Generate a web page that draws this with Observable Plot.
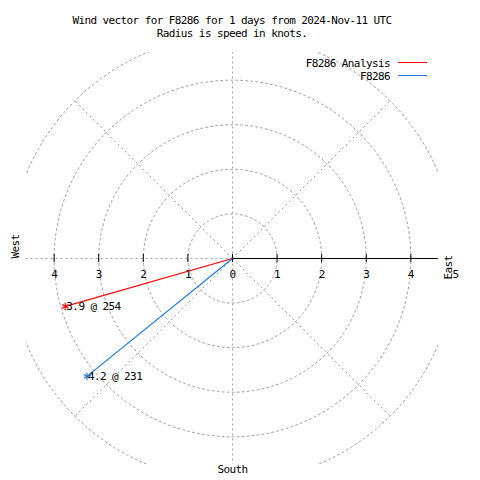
<!DOCTYPE html>
<html>
<head>
<meta charset="utf-8">
<script src="https://cdn.jsdelivr.net/npm/d3@7"></script>
<script src="https://cdn.jsdelivr.net/npm/@observablehq/plot@0.6"></script>
<style>
  html, body { margin: 0; padding: 0; background: #fff; }
  #wrap { position: relative; width: 480px; height: 480px; overflow: hidden;
          font-family: "DejaVu Sans Mono", monospace; font-size: 11px; letter-spacing: -0.6px; color: #000; }
  #title { position: absolute; top: 14px; left: 0; width: 464px; text-align: center; line-height: 13px; white-space: pre; }
  .leg { position: absolute; right: 90px; line-height: 13px; white-space: pre; }
  .legline { position: absolute; left: 398px; width: 29px; height: 1px; }
  svg text { letter-spacing: -0.6px; }
</style>
</head>
<body>
<div id="wrap">
  <div id="chart"></div>
  <div id="title"></div>
  <div id="legend"></div>
</div>
<script>
// ---- data ----
const titleLines = ["Wind vector for F8286 for 1 days from 2024-Nov-11 UTC", "Radius is speed in knots."];
const series = ["F8286 Analysis", "F8286"];
const speeds = [3.9, 4.2];          // knots
const directions = [254, 231];      // degrees
const radii = [1, 2, 3, 4, 5];      // grid circles
const spokeAngles = [0, 45, 90, 135, 180, 225, 270, 315];
const leftTicks = [-4, -3, -2, -1, 0];
const rightTicks = [0, 1, 2, 3, 4];
const rightTickLabels = [0, 1, 2, 3, 4, 5];
const compass = ["West", "East", "South"];

const R = 4.62;
const rad = d => d * Math.PI / 180;
const seriesColors = ["#ff0000", "#1a78e6"];

const vectors = series.map((s, i) => ({
  series: s, speed: speeds[i], dir: directions[i],
  x: speeds[i] * Math.sin(rad(directions[i])),
  y: speeds[i] * Math.cos(rad(directions[i]))
}));

const circlePts = radii.flatMap(r => d3.range(0, 361, 2).map(a => ({r, x: r * Math.cos(rad(a)), y: r * Math.sin(rad(a))})));
const spokes = spokeAngles.map(a => ({x2: 5 * Math.cos(rad(a)), y2: 5 * Math.sin(rad(a))}));
const tickHalf = 4 / 44.6;

const chart = Plot.plot({
  width: 480, height: 480,
  marginLeft: 26, marginRight: 42, marginTop: 52, marginBottom: 16,
  x: {domain: [-R, R], axis: null},
  y: {domain: [-R, R], axis: null},
  color: {domain: series, range: seriesColors},
  style: {fontFamily: "DejaVu Sans Mono, monospace", fontSize: "11px", color: "#000", background: "#fff"},
  marks: [
    Plot.line(circlePts, {x: "x", y: "y", z: "r", stroke: "#a0a0a0", strokeWidth: 1, strokeDasharray: "2,3", clip: true}),
    Plot.link(spokes, {x1: 0, y1: 0, x2: "x2", y2: "y2", stroke: "#a0a0a0", strokeWidth: 1, strokeDasharray: "2,3", clip: true}),
    Plot.ruleY([0], {x1: 0, x2: R, stroke: "#000", strokeWidth: 1}),
    Plot.ruleX([...leftTicks, ...rightTicks], {x: d => d, y1: -tickHalf, y2: tickHalf, stroke: "#000", strokeWidth: 1}),
    Plot.text(leftTicks.filter(d => d !== 0), {x: d => d, y: 0, text: d => String(Math.abs(d)), dy: 16, fill: "#000"}),
    Plot.text(rightTickLabels, {x: d => d, y: 0, text: d => String(d), dy: 16, fill: "#000"}),
    Plot.link(vectors, {x1: 0, y1: 0, x2: "x", y2: "y", stroke: "series", strokeWidth: 1.2}),
    Plot.dot(vectors, {x: "x", y: "y", symbol: "asterisk", r: 3.5, stroke: "series", strokeWidth: 1.2}),
    Plot.text(vectors, {x: "x", y: "y", text: d => `${d.speed} @ ${d.dir}`, textAnchor: "start", dx: 1, fill: "#000"}),
    Plot.text([compass[0]], {frameAnchor: "left", dx: -11, rotate: -90, text: d => d, fill: "#000"}),
    Plot.text([compass[1]], {frameAnchor: "right", dx: 10, dy: -3, rotate: -90, text: d => d, fill: "#000"}),
    Plot.text([compass[2]], {frameAnchor: "bottom", dy: 8, text: d => d, fill: "#000"})
  ]
});
document.getElementById("chart").appendChild(chart);

document.getElementById("title").textContent = titleLines.join("\n");

const legend = document.getElementById("legend");
series.forEach((s, i) => {
  const t = document.createElement("div");
  t.className = "leg";
  t.style.top = (57 + 13 * i) + "px";
  t.textContent = s;
  legend.appendChild(t);
  const l = document.createElement("div");
  l.className = "legline";
  l.style.top = (62 + 13 * i) + "px";
  l.style.background = seriesColors[i];
  legend.appendChild(l);
});
</script>
</body>
</html>
